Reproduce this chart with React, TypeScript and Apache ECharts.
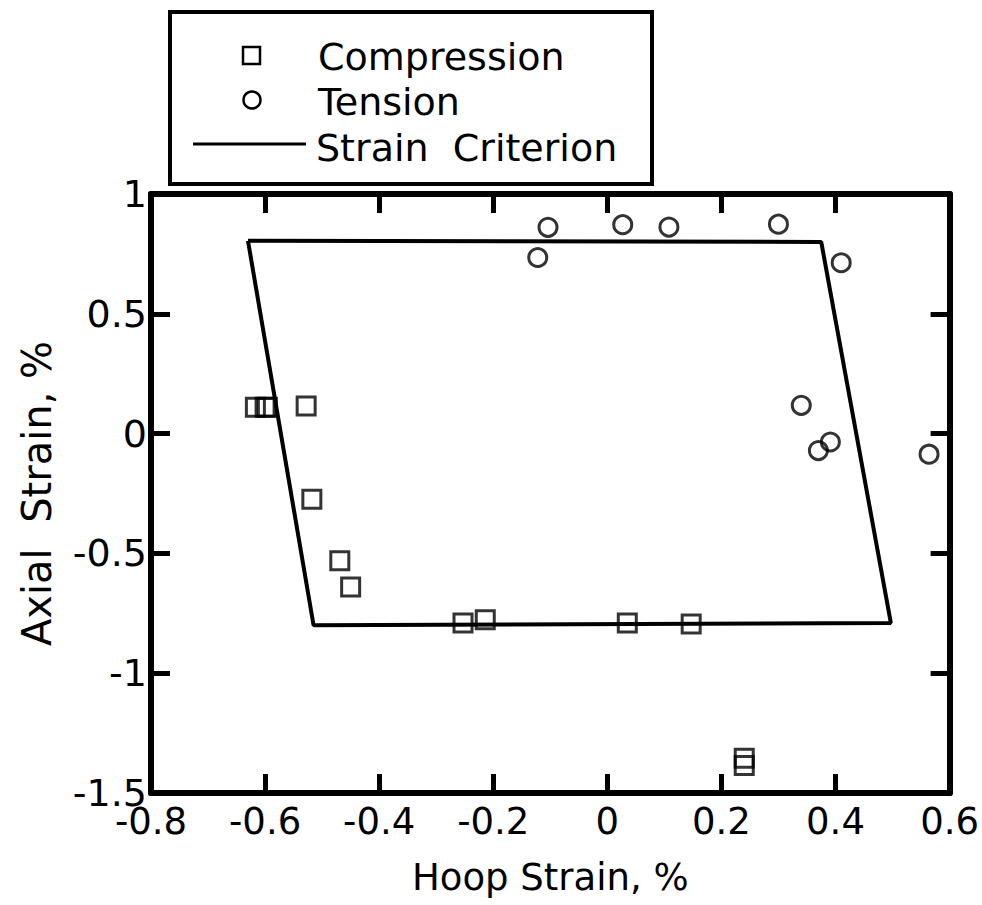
import React, { useEffect, useRef } from "react";
import * as echarts from "echarts";

const xTicks = { min: -0.8, max: 0.6, interval: 0.2 };
const yTicks = { min: -1.5, max: 1, interval: 0.5 };

const compression: [number, number][] = [
  [-0.617, 0.11], [-0.6, 0.11], [-0.596, 0.11], [-0.528, 0.115],
  [-0.518, -0.274], [-0.469, -0.531], [-0.45, -0.64],
  [-0.253, -0.79], [-0.214, -0.777], [0.035, -0.79], [0.147, -0.795],
  [0.24, -1.355], [0.24, -1.385],
];

const tension: [number, number][] = [
  [-0.104, 0.861], [-0.122, 0.735], [0.027, 0.872], [0.108, 0.862],
  [0.3, 0.874], [0.41, 0.713], [0.34, 0.118], [0.37, -0.071],
  [0.391, -0.035], [0.564, -0.086],
];

const criterion: [number, number][] = [
  [-0.63, 0.805], [0.375, 0.8], [0.497, -0.79], [-0.515, -0.8], [-0.63, 0.805],
];

const legendLabels = ["Compression", "Tension", "Strain  Criterion"];

const FONT = "'DejaVu Sans', 'Liberation Sans', sans-serif";

export default function App() {
  const ref = useRef<HTMLDivElement>(null);
  useEffect(() => {
    if (!ref.current) return;
    const chart = echarts.init(ref.current, null, { renderer: "svg" });
    const axisLine = { show: true, onZero: false, lineStyle: { color: "#000", width: 6 } };
    const axisTick = { show: true, inside: true, length: 19, lineStyle: { color: "#000", width: 5 } };
    chart.setOption({
      animation: false,
      backgroundColor: "#fff",
      grid: { left: 151, right: 29, top: 194, bottom: 112, containLabel: false },
      xAxis: [
        {
          type: "value", position: "bottom", ...xTicks,
          axisLine, axisTick, splitLine: { show: false },
          axisLabel: { color: "#000", fontSize: 37, fontFamily: FONT, margin: 10 },
          name: "Hoop Strain, %", nameLocation: "middle", nameGap: 66,
          nameTextStyle: { color: "#000", fontSize: 37, fontFamily: FONT },
        },
        {
          type: "value", position: "top", ...xTicks,
          axisLine, axisTick, splitLine: { show: false },
          axisLabel: { show: false },
        },
      ],
      yAxis: [
        {
          type: "value", position: "left", ...yTicks,
          axisLine, axisTick, splitLine: { show: false },
          axisLabel: { color: "#000", fontSize: 38, fontFamily: FONT, margin: 4 },
          name: "Axial  Strain, %", nameLocation: "middle", nameGap: 94, nameRotate: 90,
          nameTextStyle: { color: "#000", fontSize: 40, fontFamily: FONT },
        },
        {
          type: "value", position: "right", ...yTicks,
          axisLine, axisTick, splitLine: { show: false },
          axisLabel: { show: false },
        },
      ],
      series: [
        {
          name: legendLabels[2], type: "line", data: criterion, symbol: "none",
          lineStyle: { color: "#000", width: 4 }, z: 2,
        },
        {
          name: legendLabels[0], type: "scatter", data: compression, symbol: "rect", symbolSize: 18,
          itemStyle: { color: "rgba(0,0,0,0)", borderColor: "#000", borderWidth: 3 }, z: 3,
        },
        {
          name: legendLabels[1], type: "scatter", data: tension, symbol: "circle", symbolSize: 18,
          itemStyle: { color: "rgba(0,0,0,0)", borderColor: "#000", borderWidth: 3 }, z: 3,
        },
      ],
      graphic: [
        {
          type: "rect", left: 168, top: 10,
          shape: { width: 482, height: 172 },
          style: { fill: "#fff", stroke: "#000", lineWidth: 4 }, z: 10,
        },
        {
          type: "rect", x: 243, y: 47, shape: { width: 17, height: 17 },
          style: { fill: "none", stroke: "#000", lineWidth: 2.5 }, z: 11,
        },
        {
          type: "circle", x: 252, y: 100, shape: { r: 8.5 },
          style: { fill: "none", stroke: "#000", lineWidth: 2.5 }, z: 11,
        },
        {
          type: "line", shape: { x1: 193, y1: 144, x2: 306, y2: 144 },
          style: { stroke: "#000", lineWidth: 3 }, z: 11,
        },
        {
          type: "text", x: 318, y: 57, z: 11,
          style: { text: legendLabels[0], fontSize: 38, fontFamily: FONT, fill: "#000", verticalAlign: "middle" },
        },
        {
          type: "text", x: 318, y: 102, z: 11,
          style: { text: legendLabels[1], fontSize: 38, fontFamily: FONT, fill: "#000", verticalAlign: "middle" },
        },
        {
          type: "text", x: 316, y: 148, z: 11,
          style: { text: legendLabels[2], fontSize: 38, fontFamily: FONT, fill: "#000", verticalAlign: "middle" },
        },
      ],
    });
    return () => chart.dispose();
  }, []);
  return <div ref={ref} style={{ position: "fixed", left: 0, top: 0, width: 982, height: 905 }} />;
}
